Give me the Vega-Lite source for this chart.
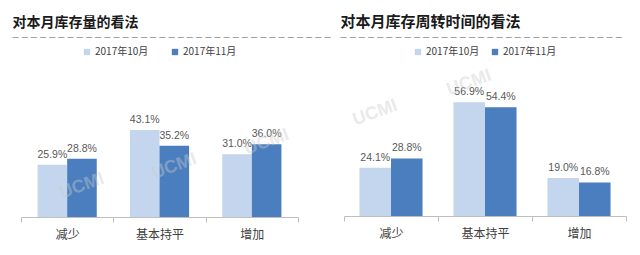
{
  "$schema": "https://vega.github.io/schema/vega-lite/v6.json",
  "background": "white",
  "padding": {"left": 12, "top": 15, "right": 0, "bottom": 0},
  "spacing": 46,
  "bounds": "flush",
  "config": {
    "view": {"stroke": null},
    "font": "Noto Sans CJK SC",
    "legend": {"layout": {"top": {"anchor": "middle"}}},
    "axis": {"domainColor": "#BFBFBF", "tickColor": "#BFBFBF", "tickSize": 5, "labelFontSize": 12, "labelColor": "#404040", "labelPadding": 7, "labelFont": "Noto Sans CJK SC"},
    "title": {"fontSize": 14, "fontWeight": "bold", "color": "#1a1a1a", "anchor": "start", "subtitleFont": "Liberation Sans", "subtitleFontSize": 11, "subtitleColor": "#8C8C8C", "subtitlePadding": 1, "offset": 5}
  },
  "resolve": {"legend": {"color": "independent"}, "scale": {"y": "independent", "x": "independent", "xOffset": "independent"}},
  "hconcat": [
    {
      "title": {"text": "对本月库存量的看法", "subtitle": "–\u00a0–\u00a0–\u00a0–\u00a0–\u00a0–\u00a0–\u00a0–\u00a0–\u00a0–\u00a0–\u00a0–\u00a0–\u00a0–\u00a0–\u00a0–\u00a0–\u00a0–\u00a0–\u00a0–\u00a0–\u00a0–\u00a0–\u00a0–\u00a0–\u00a0–\u00a0–\u00a0–\u00a0–\u00a0–\u00a0–\u00a0–\u00a0–\u00a0–\u00a0–", "dx": -8},
      "width": 277,
      "height": 156,
      "data": {"values": [
        {"cat": "减少", "month": "2017年10月", "v": 0.259},
        {"cat": "减少", "month": "2017年11月", "v": 0.288},
        {"cat": "基本持平", "month": "2017年10月", "v": 0.431},
        {"cat": "基本持平", "month": "2017年11月", "v": 0.352},
        {"cat": "增加", "month": "2017年10月", "v": 0.310},
        {"cat": "增加", "month": "2017年11月", "v": 0.360}
      ]},
      "encoding": {
        "x": {"field": "cat", "type": "nominal", "sort": ["减少", "基本持平", "增加"], "scale": {"domain": ["减少", "基本持平", "增加"], "paddingInner": 0, "paddingOuter": 0}, "axis": {"title": null, "labelAngle": 0, "tickBand": "extent"}},
        "xOffset": {"field": "month", "type": "nominal", "sort": ["2017年10月", "2017年11月"], "scale": {"domain": ["2017年10月", "2017年11月"], "paddingOuter": 0.56, "paddingInner": 0}},
        "y": {"field": "v", "type": "quantitative", "scale": {"domain": [0, 0.772]}, "axis": null}
      },
      "layer": [
        {
          "mark": {"type": "bar"},
          "encoding": {
            "color": {"field": "month", "type": "nominal", "sort": ["2017年10月", "2017年11月"], "scale": {"domain": ["2017年10月", "2017年11月"], "range": ["#C3D6EE", "#4A7EBF"]},
              "legend": {"title": null, "orient": "top", "direction": "horizontal", "symbolType": "square", "symbolSize": 40, "labelFontSize": 10, "labelColor": "#404040", "columnPadding": 21, "labelOffset": 3, "offset": 4, "padding": 0}}
          }
        },
        {
          "mark": {"type": "text", "baseline": "alphabetic", "dy": -7, "font": "Liberation Sans", "fontSize": 10.5, "color": "#595959"},
          "encoding": {"text": {"field": "v", "type": "quantitative", "format": ".1%"}}
        },
        {
          "data": {"values": [
            {"cat": "减少", "month": "2017年11月", "v": 0.153, "t": "UCMI"},
            {"cat": "基本持平", "month": "2017年11月", "v": 0.25, "t": "UCMI"},
            {"cat": "增加", "month": "2017年11月", "v": 0.37, "t": "UCMI"}
          ]},
          "mark": {"type": "text", "angle": -20, "font": "Liberation Sans", "fontWeight": "bold", "fontSize": 18, "color": "#CCCCCC", "opacity": 0.4, "baseline": "middle"},
          "encoding": {"text": {"field": "t"}}
        }
      ]
    },
    {
      "title": {"text": "对本月库存周转时间的看法", "subtitle": "–\u00a0–\u00a0–\u00a0–\u00a0–\u00a0–\u00a0–\u00a0–\u00a0–\u00a0–\u00a0–\u00a0–\u00a0–\u00a0–\u00a0–\u00a0–\u00a0–\u00a0–\u00a0–\u00a0–\u00a0–\u00a0–\u00a0–\u00a0–\u00a0–\u00a0–\u00a0–\u00a0–\u00a0–\u00a0–\u00a0–", "dx": -3, "fontSize": 15},
      "width": 282,
      "height": 155,
      "data": {"values": [
        {"cat": "减少", "month": "2017年10月", "v": 0.241},
        {"cat": "减少", "month": "2017年11月", "v": 0.288},
        {"cat": "基本持平", "month": "2017年10月", "v": 0.569},
        {"cat": "基本持平", "month": "2017年11月", "v": 0.544},
        {"cat": "增加", "month": "2017年10月", "v": 0.190},
        {"cat": "增加", "month": "2017年11月", "v": 0.168}
      ]},
      "encoding": {
        "x": {"field": "cat", "type": "nominal", "sort": ["减少", "基本持平", "增加"], "scale": {"domain": ["减少", "基本持平", "增加"], "paddingInner": 0, "paddingOuter": 0}, "axis": {"title": null, "labelAngle": 0, "tickBand": "extent"}},
        "xOffset": {"field": "month", "type": "nominal", "sort": ["2017年10月", "2017年11月"], "scale": {"domain": ["2017年10月", "2017年11月"], "paddingOuter": 0.49, "paddingInner": 0}},
        "y": {"field": "v", "type": "quantitative", "scale": {"domain": [0, 0.775]}, "axis": null}
      },
      "layer": [
        {
          "mark": {"type": "bar"},
          "encoding": {
            "color": {"field": "month", "type": "nominal", "sort": ["2017年10月", "2017年11月"], "scale": {"domain": ["2017年10月", "2017年11月"], "range": ["#C3D6EE", "#4A7EBF"]},
              "legend": {"title": null, "orient": "top", "direction": "horizontal", "symbolType": "square", "symbolSize": 40, "labelFontSize": 10, "labelColor": "#404040", "columnPadding": 10, "labelOffset": 3, "offset": 4, "padding": 0}}
          }
        },
        {
          "mark": {"type": "text", "baseline": "alphabetic", "dy": -7, "font": "Liberation Sans", "fontSize": 10.5, "color": "#595959"},
          "encoding": {"text": {"field": "v", "type": "quantitative", "format": ".1%"}}
        },
        {
          "data": {"values": [
            {"cat": "减少", "month": "2017年10月", "v": 0.515, "t": "UCMI"},
            {"cat": "基本持平", "month": "2017年10月", "v": 0.665, "t": "UCMI"}
          ]},
          "mark": {"type": "text", "angle": -20, "font": "Liberation Sans", "fontWeight": "bold", "fontSize": 18, "color": "#CCCCCC", "opacity": 0.4, "baseline": "middle"},
          "encoding": {"text": {"field": "t"}}
        }
      ]
    }
  ]
}
